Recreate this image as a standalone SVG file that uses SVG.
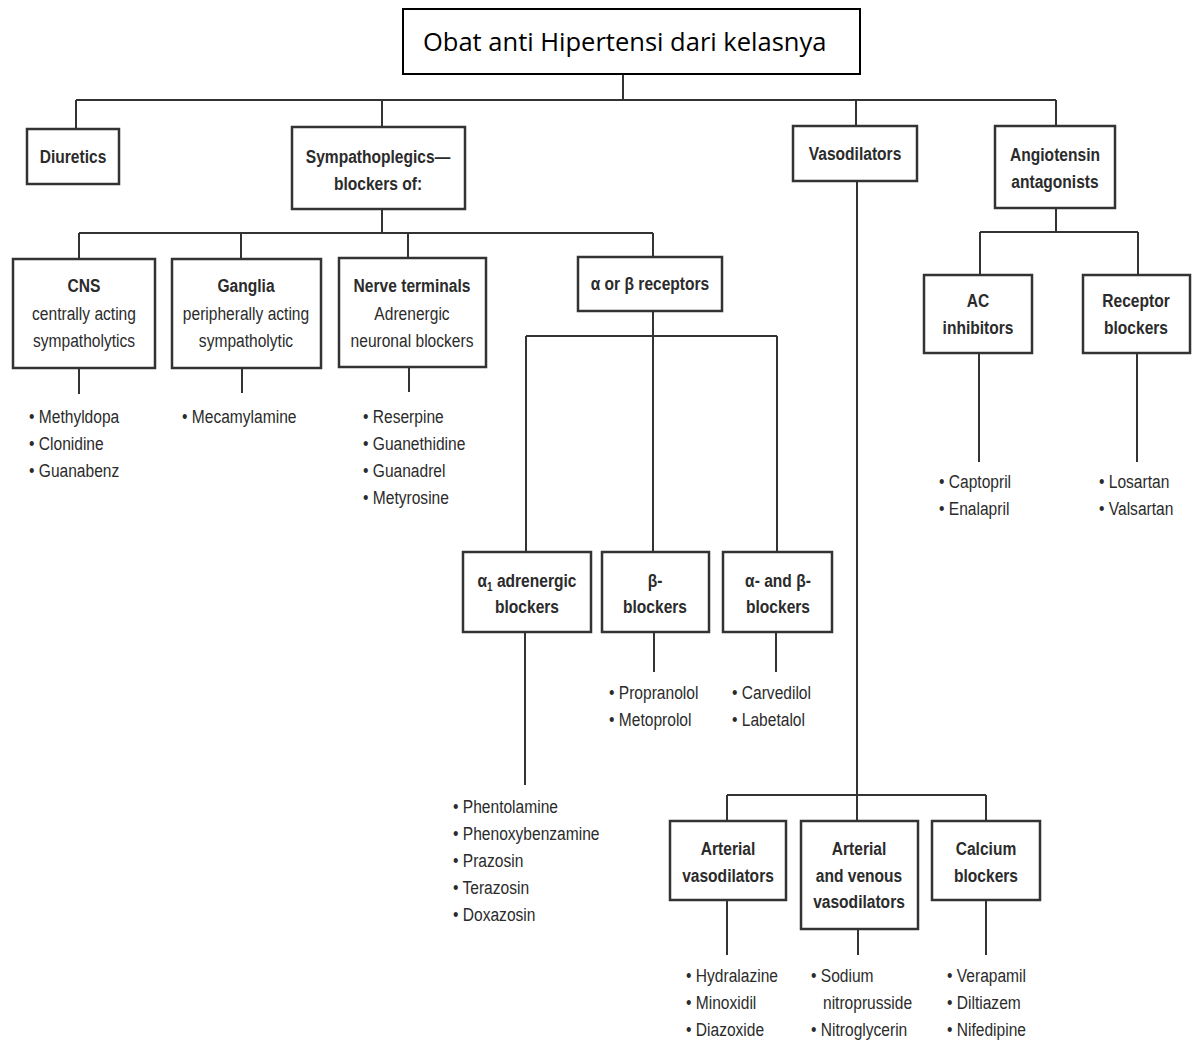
<svg xmlns="http://www.w3.org/2000/svg" width="1195" height="1041" viewBox="0 0 1195 1041">
<style>
.bx{fill:#fff;stroke:#333;stroke-width:2.5}
.ln{fill:none;stroke:#333;stroke-width:2}
text{font-family:"Liberation Sans",Arial,sans-serif;fill:#2b2b2b}
.h{font-size:19px;font-weight:bold;text-anchor:middle}
.r{font-size:19px;text-anchor:middle}
.b{font-size:19px}
.t{font-family:"Open Sans","Noto Sans",sans-serif;font-size:25.5px;fill:#000}
</style>
<rect width="1195" height="1041" fill="#fff"/>
<g id="connectors" class="ln">
<path d="M623 74V100M76 100H1056M76 100V129M382 100V127M856 100V126M1056 100V126"/>
<path d="M382 209V233M79 233H653M79 233V259M241 233V259M408 233V258M653 233V257"/>
<path d="M79 368V394M242 368V393M409 367V392"/>
<path d="M653 311V552M526 336H777M526 336V552M777 336V552"/>
<path d="M525 632V785M654 632V672M776 632V672"/>
<path d="M857 181V821M727 795H986M727 795V821M986 795V821"/>
<path d="M727 900V955M858 929V955M986 900V955"/>
<path d="M1056 208V232M980 232H1138M980 232V275M1138 232V275M979 353V462M1137 353V462"/>
</g>
<g id="title"><rect x="403" y="9" width="457" height="65" fill="#fff" stroke="#000" stroke-width="2"/><text class="t" x="423" y="51">Obat anti Hipertensi dari kelasnya</text></g>
<g id="diuretics"><rect class="bx" x="27" y="129" width="92" height="55"/><text class="h" transform="translate(73 163) scale(.82 1)">Diuretics</text></g>
<g id="sympathoplegics"><rect class="bx" x="292" y="127" width="173" height="82"/><text class="h" transform="translate(378 163) scale(.82 1)">Sympathoplegics—</text><text class="h" transform="translate(378 190) scale(.82 1)">blockers of:</text></g>
<g id="vasodilators"><rect class="bx" x="793" y="126" width="124" height="55"/><text class="h" transform="translate(855 160) scale(.82 1)">Vasodilators</text></g>
<g id="angiotensin"><rect class="bx" x="995" y="126" width="120" height="82"/><text class="h" transform="translate(1055 161) scale(.82 1)">Angiotensin</text><text class="h" transform="translate(1055 188) scale(.82 1)">antagonists</text></g>
<g id="cns"><rect class="bx" x="13" y="259" width="142" height="109"/><text class="h" transform="translate(84 292) scale(.82 1)">CNS</text><text class="r" transform="translate(84 320) scale(.82 1)">centrally acting</text><text class="r" transform="translate(84 347) scale(.82 1)">sympatholytics</text></g>
<g id="cns-drugs"><text class="b" transform="translate(29 423) scale(.82 1)">• Methyldopa</text><text class="b" transform="translate(29 450) scale(.82 1)">• Clonidine</text><text class="b" transform="translate(29 477) scale(.82 1)">• Guanabenz</text></g>
<g id="ganglia"><rect class="bx" x="172" y="259" width="149" height="109"/><text class="h" transform="translate(246 292) scale(.82 1)">Ganglia</text><text class="r" transform="translate(246 320) scale(.82 1)">peripherally acting</text><text class="r" transform="translate(246 347) scale(.82 1)">sympatholytic</text></g>
<g id="ganglia-drugs"><text class="b" transform="translate(182 423) scale(.82 1)">• Mecamylamine</text></g>
<g id="nerve"><rect class="bx" x="339" y="258" width="147" height="109"/><text class="h" transform="translate(412 292) scale(.82 1)">Nerve terminals</text><text class="r" transform="translate(412 320) scale(.82 1)">Adrenergic</text><text class="r" transform="translate(412 347) scale(.82 1)">neuronal blockers</text></g>
<g id="nerve-drugs"><text class="b" transform="translate(363 423) scale(.82 1)">• Reserpine</text><text class="b" transform="translate(363 450) scale(.82 1)">• Guanethidine</text><text class="b" transform="translate(363 477) scale(.82 1)">• Guanadrel</text><text class="b" transform="translate(363 504) scale(.82 1)">• Metyrosine</text></g>
<g id="receptors"><rect class="bx" x="578" y="257" width="144" height="54"/><text class="h" transform="translate(650 290) scale(.82 1)">α or β receptors</text></g>
<g id="alpha1"><rect class="bx" x="463" y="552" width="128" height="80"/><text class="h" transform="translate(527 587) scale(.82 1)">α<tspan font-size="12" dy="4">1</tspan><tspan dy="-4"> adrenergic</tspan></text><text class="h" transform="translate(527 613) scale(.82 1)">blockers</text></g>
<g id="alpha1-drugs"><text class="b" transform="translate(453 813) scale(.82 1)">• Phentolamine</text><text class="b" transform="translate(453 840) scale(.82 1)">• Phenoxybenzamine</text><text class="b" transform="translate(453 867) scale(.82 1)">• Prazosin</text><text class="b" transform="translate(453 894) scale(.82 1)">• Terazosin</text><text class="b" transform="translate(453 921) scale(.82 1)">• Doxazosin</text></g>
<g id="beta"><rect class="bx" x="602" y="552" width="107" height="80"/><text class="h" transform="translate(655 587) scale(.82 1)">β-</text><text class="h" transform="translate(655 613) scale(.82 1)">blockers</text></g>
<g id="beta-drugs"><text class="b" transform="translate(609 699) scale(.82 1)">• Propranolol</text><text class="b" transform="translate(609 726) scale(.82 1)">• Metoprolol</text></g>
<g id="alphabeta"><rect class="bx" x="723" y="552" width="109" height="80"/><text class="h" transform="translate(778 587) scale(.82 1)">α- and β-</text><text class="h" transform="translate(778 613) scale(.82 1)">blockers</text></g>
<g id="alphabeta-drugs"><text class="b" transform="translate(732 699) scale(.82 1)">• Carvedilol</text><text class="b" transform="translate(732 726) scale(.82 1)">• Labetalol</text></g>
<g id="ace"><rect class="bx" x="924" y="275" width="108" height="78"/><text class="h" transform="translate(978 307) scale(.82 1)">AC</text><text class="h" transform="translate(978 334) scale(.82 1)">inhibitors</text></g>
<g id="ace-drugs"><text class="b" transform="translate(939 488) scale(.82 1)">• Captopril</text><text class="b" transform="translate(939 515) scale(.82 1)">• Enalapril</text></g>
<g id="arb"><rect class="bx" x="1083" y="275" width="107" height="78"/><text class="h" transform="translate(1136 307) scale(.82 1)">Receptor</text><text class="h" transform="translate(1136 334) scale(.82 1)">blockers</text></g>
<g id="arb-drugs"><text class="b" transform="translate(1099 488) scale(.82 1)">• Losartan</text><text class="b" transform="translate(1099 515) scale(.82 1)">• Valsartan</text></g>
<g id="arterial"><rect class="bx" x="670" y="821" width="116" height="79"/><text class="h" transform="translate(728 855) scale(.82 1)">Arterial</text><text class="h" transform="translate(728 882) scale(.82 1)">vasodilators</text></g>
<g id="arterial-drugs"><text class="b" transform="translate(686 982) scale(.82 1)">• Hydralazine</text><text class="b" transform="translate(686 1009) scale(.82 1)">• Minoxidil</text><text class="b" transform="translate(686 1036) scale(.82 1)">• Diazoxide</text></g>
<g id="artven"><rect class="bx" x="801" y="821" width="117" height="108"/><text class="h" transform="translate(859 855) scale(.82 1)">Arterial</text><text class="h" transform="translate(859 882) scale(.82 1)">and venous</text><text class="h" transform="translate(859 908) scale(.82 1)">vasodilators</text></g>
<g id="artven-drugs"><text class="b" transform="translate(811 982) scale(.82 1)">• Sodium</text><text class="b" transform="translate(823 1009) scale(.82 1)">nitroprusside</text><text class="b" transform="translate(811 1036) scale(.82 1)">• Nitroglycerin</text></g>
<g id="calcium"><rect class="bx" x="932" y="821" width="108" height="79"/><text class="h" transform="translate(986 855) scale(.82 1)">Calcium</text><text class="h" transform="translate(986 882) scale(.82 1)">blockers</text></g>
<g id="calcium-drugs"><text class="b" transform="translate(947 982) scale(.82 1)">• Verapamil</text><text class="b" transform="translate(947 1009) scale(.82 1)">• Diltiazem</text><text class="b" transform="translate(947 1036) scale(.82 1)">• Nifedipine</text></g>
</svg>
